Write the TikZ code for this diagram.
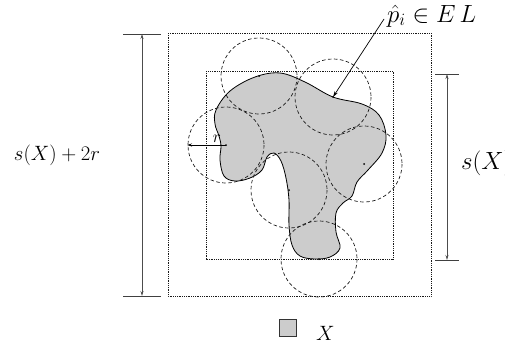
\documentclass[tikz,border=0pt]{standalone}
\usepackage{tikz}
\usetikzlibrary{arrows.meta}
\tikzset{
  dotrect/.style={draw=black!90, line width=0.7pt, dash pattern=on 0.9pt off 0.9pt},
  cover/.style={draw=black!90, line width=0.7pt, dash pattern=on 3.5pt off 2.5pt},
  dimline/.style={draw=black!70, line width=0.8pt, {Stealth[length=5pt,width=3pt]}-{Stealth[length=5pt,width=3pt]}},
  tick/.style={draw=black!75, line width=0.8pt},
  ctr/.style={circle, fill=black, inner sep=0pt, minimum size=2pt},
  lbl/.style={font=\fontsize{22}{26}\selectfont, inner sep=0pt},
  biglbl/.style={font=\fontsize{24}{28}\selectfont, inner sep=0pt}
}
\begin{document}
\begin{tikzpicture}[x=1pt,y=-1pt]
\useasboundingbox (0,0) rectangle (505,346);
% shape X
\draw[fill=black!20, line width=0.8pt] plot[smooth cycle, tension=0.6] coordinates {
(216,110) (230,91) (255,77) (280,73) (305,82) (333,97) (362,104) (379,115) (386,135) (382,153)
(368,170) (357,182) (352,196) (343,203) (336,213) (336,232) (340,248) (330,257) (315,259) (300,256)
(292,245) (289,225) (289,200) (286,178) (281,161) (274,153) (267,157) (262,170) (250,178) (235,181)
(224,176) (220,160) (221,146) (219,136) (215,124)};
% boxes
\draw[dotrect] (168,33) rectangle (431,296);
\draw[dotrect] (206,71) rectangle (393,259);
% covering circles
\foreach \n/\cx/\cy in {a/259/76, b/333/97, c/226/145, d/364/164, e/289/190, f/319/259}{
  \draw[cover] (\cx,\cy) circle[radius=38];
  \node[ctr] (d\n) at (\cx,\cy) {};
}
% radius
\coordinate (rend) at (187,145);
\draw[line width=0.8pt, -{Stealth[length=5pt,width=3pt]}] (dc.center) -- (rend);
\node[lbl, font=\fontsize{17}{20}\selectfont] (rl) at (217,139) {$r$};
% left dimension
\coordinate (lt) at (142,34);
\coordinate (lb) at (142,296);
\draw[tick] (123,34) -- (161,34);
\draw[tick] (123,296) -- (161,296);
\draw[dimline] (lt) -- (lb);
\node[lbl] (l1) at (57,155) {$s(X)+2r$};
% right dimension
\coordinate (rt) at (447,74);
\coordinate (rb) at (447,260);
\draw[tick] (435,74) -- (459,74);
\draw[tick] (435,260) -- (459,260);
\draw[dimline] (rt) -- (rb);
\node[biglbl, anchor=west] (l2) at (461,163) {$s(X)$};
% p_i label
\node[biglbl, anchor=base west] (pl) at (387,22) {$\hat{p}_i\in E\,L$};
\coordinate (ps) at (384,19);
\draw[line width=0.7pt, -{Stealth[length=6pt,width=3.5pt]}] (ps) -- (db.center);
% legend
\node[draw=black!80, fill=black!20, line width=0.8pt, minimum size=17pt, inner sep=0pt] (leg) at (288,328) {};
\node[lbl, anchor=base west] (legx) at (316,340) {$X$};
\end{tikzpicture}
\end{document}
